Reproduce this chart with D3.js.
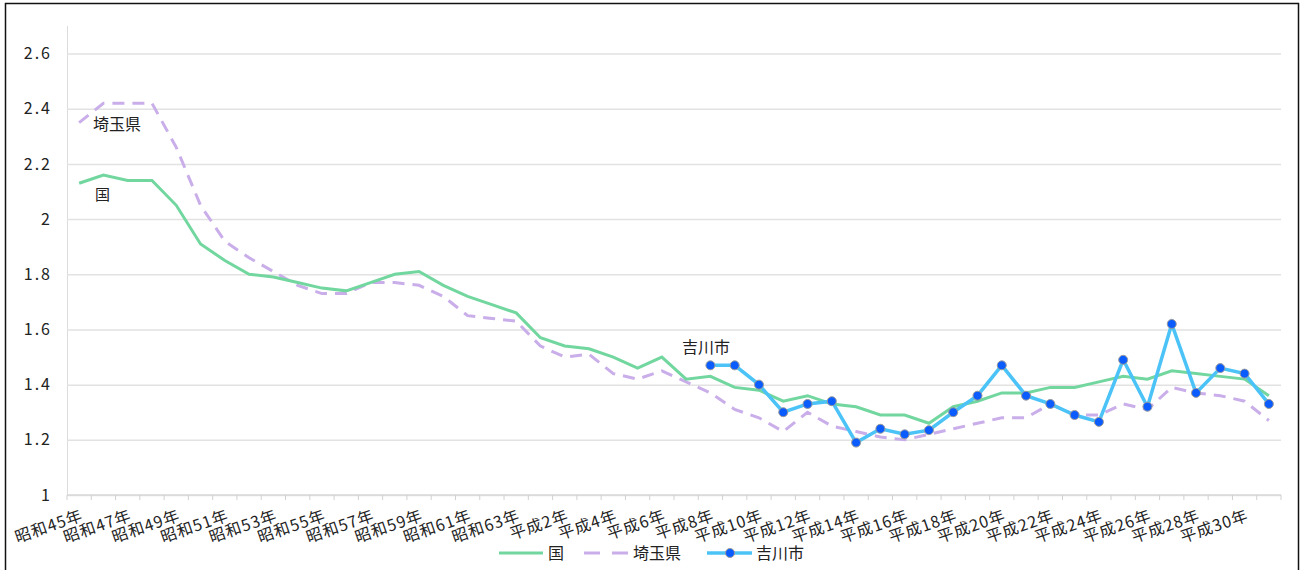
<!DOCTYPE html>
<head>
  <meta charset="utf-8">
  <script src="https://d3js.org/d3.v7.min.js"></script>
  <style>
    body { margin: 0; background: #fff; }
    text { font-family: "Noto Sans CJK JP", "Noto Sans", sans-serif; fill: #222; }
  </style>
</head>
<body>
<script>

// categories: 昭和45年 (1970) .. 令和元年 (2019)
var years = [
  '昭和45年','昭和46年','昭和47年','昭和48年','昭和49年','昭和50年','昭和51年','昭和52年','昭和53年','昭和54年',
  '昭和55年','昭和56年','昭和57年','昭和58年','昭和59年','昭和60年','昭和61年','昭和62年','昭和63年','平成元年',
  '平成2年','平成3年','平成4年','平成5年','平成6年','平成7年','平成8年','平成9年','平成10年','平成11年',
  '平成12年','平成13年','平成14年','平成15年','平成16年','平成17年','平成18年','平成19年','平成20年','平成21年',
  '平成22年','平成23年','平成24年','平成25年','平成26年','平成27年','平成28年','平成29年','平成30年','令和元年'
];

var kuni = [2.13,2.16,2.14,2.14,2.05,1.91,1.85,1.80,1.79,1.77,
  1.75,1.74,1.77,1.80,1.81,1.76,1.72,1.69,1.66,1.57,
  1.54,1.53,1.50,1.46,1.50,1.42,1.43,1.39,1.38,1.34,
  1.36,1.33,1.32,1.29,1.29,1.26,1.32,1.34,1.37,1.37,
  1.39,1.39,1.41,1.43,1.42,1.45,1.44,1.43,1.42,1.36];

var saitama = [2.35,2.42,2.42,2.42,2.26,2.05,1.92,1.86,1.81,1.76,
  1.73,1.73,1.77,1.77,1.76,1.72,1.65,1.64,1.63,1.54,
  1.50,1.51,1.44,1.42,1.45,1.41,1.37,1.31,1.28,1.23,
  1.30,1.25,1.23,1.21,1.20,1.22,1.24,1.26,1.28,1.28,
  1.33,1.29,1.29,1.33,1.31,1.39,1.37,1.36,1.34,1.27];

// 吉川市 only from 平成8年
var yoshikawa = [null,null,null,null,null,null,null,null,null,null,
  null,null,null,null,null,null,null,null,null,null,
  null,null,null,null,null,null,1.47,1.47,1.40,1.30,
  1.33,1.34,1.19,1.24,1.22,1.235,1.30,1.36,1.47,1.36,
  1.33,1.29,1.265,1.49,1.32,1.62,1.37,1.46,1.44,1.33];

var yTicks = [1, 1.2, 1.4, 1.6, 1.8, 2, 2.2, 2.4, 2.6];

var seriesNames = ['国', '埼玉県', '吉川市'];

var outerWidth = 1307,
  outerHeight = 570;

var margin = { top: 26, left: 67, right: 26, bottom: 75 };
var width = outerWidth - margin.left - margin.right,
  height = outerHeight - margin.top - margin.bottom;

var green = '#72d69f', lavender = '#c9aeea', sky = '#4cc3f7', dotBlue = '#0b5cff';

var svg = d3.select('body').append('svg')
  .attr('width', outerWidth)
  .attr('height', outerHeight);

// outer frame
svg.append('rect')
  .attr('x', 5.5).attr('y', 3.5)
  .attr('width', 1293).attr('height', 620)
  .attr('fill', 'none')
  .attr('stroke', '#111')
  .attr('stroke-width', 1.5);

var g = svg.append('g')
  .attr('transform', 'translate(' + margin.left + ' ' + margin.top + ')');

var xScale = d3.scaleBand()
  .domain(years)
  .range([0, width]);

var yScale = d3.scaleLinear()
  .domain([1, 2.7])
  .range([height, 0]);

function cx(i) { return xScale(years[i]) + xScale.bandwidth() / 2; }

// gridlines + y labels
var yAxis = d3.axisLeft(yScale)
  .tickValues(yTicks)
  .tickSize(-width)
  .tickPadding(15)
  .tickFormat(function(d) { return String(+d.toFixed(1)); });

var yAxisContainer = g.append('g').call(yAxis);
yAxisContainer.select('.domain').attr('stroke', '#dcdcdc').attr('d', 'M0.5,0V' + height);
yAxisContainer.selectAll('.tick line').attr('stroke', '#e2e2e2').attr('stroke-width', 1.5);
yAxisContainer.selectAll('.tick text').attr('font-size', 16).style('letter-spacing', '2px');

// x baseline with ticks on category boundaries
g.append('line')
  .attr('x1', 0).attr('x2', width)
  .attr('y1', height).attr('y2', height)
  .attr('stroke', '#d8d8d8').attr('stroke-width', 1.5);

g.selectAll('.xtick')
  .data(years.concat(['end']))
  .enter().append('line')
  .attr('class', 'xtick')
  .attr('x1', function(d, i) { return i * xScale.bandwidth(); })
  .attr('x2', function(d, i) { return i * xScale.bandwidth(); })
  .attr('y1', height).attr('y2', height + 5)
  .attr('stroke', '#d0d0d0');

// x labels, every other year
g.selectAll('.xlabel')
  .data(years.filter(function(d, i) { return i % 2 === 0; }))
  .enter().append('text')
  .attr('class', 'xlabel')
  .attr('font-size', 16)
  .attr('text-anchor', 'end')
  .style('letter-spacing', '1px')
  .attr('transform', function(d) {
    return 'translate(' + (xScale(d) + xScale.bandwidth() / 2 + 5) + ' ' + (height + 25) + ') rotate(-19)';
  })
  .text(function(d) { return d; });

var line = d3.line()
  .defined(function(d) { return d != null; })
  .x(function(d, i) { return cx(i); })
  .y(function(d) { return yScale(d); });

g.append('path')
  .datum(saitama)
  .attr('d', line)
  .attr('fill', 'none')
  .attr('stroke', lavender)
  .attr('stroke-width', 3)
  .attr('stroke-dasharray', '12 8');

g.append('path')
  .datum(kuni)
  .attr('d', line)
  .attr('fill', 'none')
  .attr('stroke', green)
  .attr('stroke-width', 3);

g.append('path')
  .datum(yoshikawa)
  .attr('d', line)
  .attr('fill', 'none')
  .attr('stroke', sky)
  .attr('stroke-width', 3.5);

yoshikawa.forEach(function(v, i) {
  if (v == null) return;
  g.append('circle')
    .attr('cx', cx(i))
    .attr('cy', yScale(v))
    .attr('r', 4.5)
    .attr('fill', dotBlue)
    .attr('stroke', '#9a9a9a')
    .attr('stroke-width', 1);
});

// series labels inside the plot
g.append('text').attr('x', 26).attr('y', 104).attr('font-size', 16).text(seriesNames[1]);
g.append('text').attr('x', 28).attr('y', 174).attr('font-size', 15).text(seriesNames[0]);
g.append('text').attr('x', 615).attr('y', 327).attr('font-size', 16).text(seriesNames[2]);

// legend
var legendY = 553;
var legend = svg.append('g');
legend.append('line').attr('x1', 499).attr('x2', 543).attr('y1', legendY).attr('y2', legendY)
  .attr('stroke', green).attr('stroke-width', 3);
legend.append('text').attr('x', 548).attr('y', legendY + 6).attr('font-size', 16).text(seriesNames[0]);

legend.append('line').attr('x1', 584).attr('x2', 628).attr('y1', legendY).attr('y2', legendY)
  .attr('stroke', lavender).attr('stroke-width', 3).attr('stroke-dasharray', '16 12');
legend.append('text').attr('x', 633).attr('y', legendY + 6).attr('font-size', 16).text(seriesNames[1]);

legend.append('line').attr('x1', 707).attr('x2', 752).attr('y1', legendY).attr('y2', legendY)
  .attr('stroke', sky).attr('stroke-width', 3.5);
legend.append('circle').attr('cx', 730).attr('cy', legendY).attr('r', 4.5)
  .attr('fill', dotBlue).attr('stroke', '#9a9a9a');
legend.append('text').attr('x', 756).attr('y', legendY + 6).attr('font-size', 16).text(seriesNames[2]);

</script>
</body>
